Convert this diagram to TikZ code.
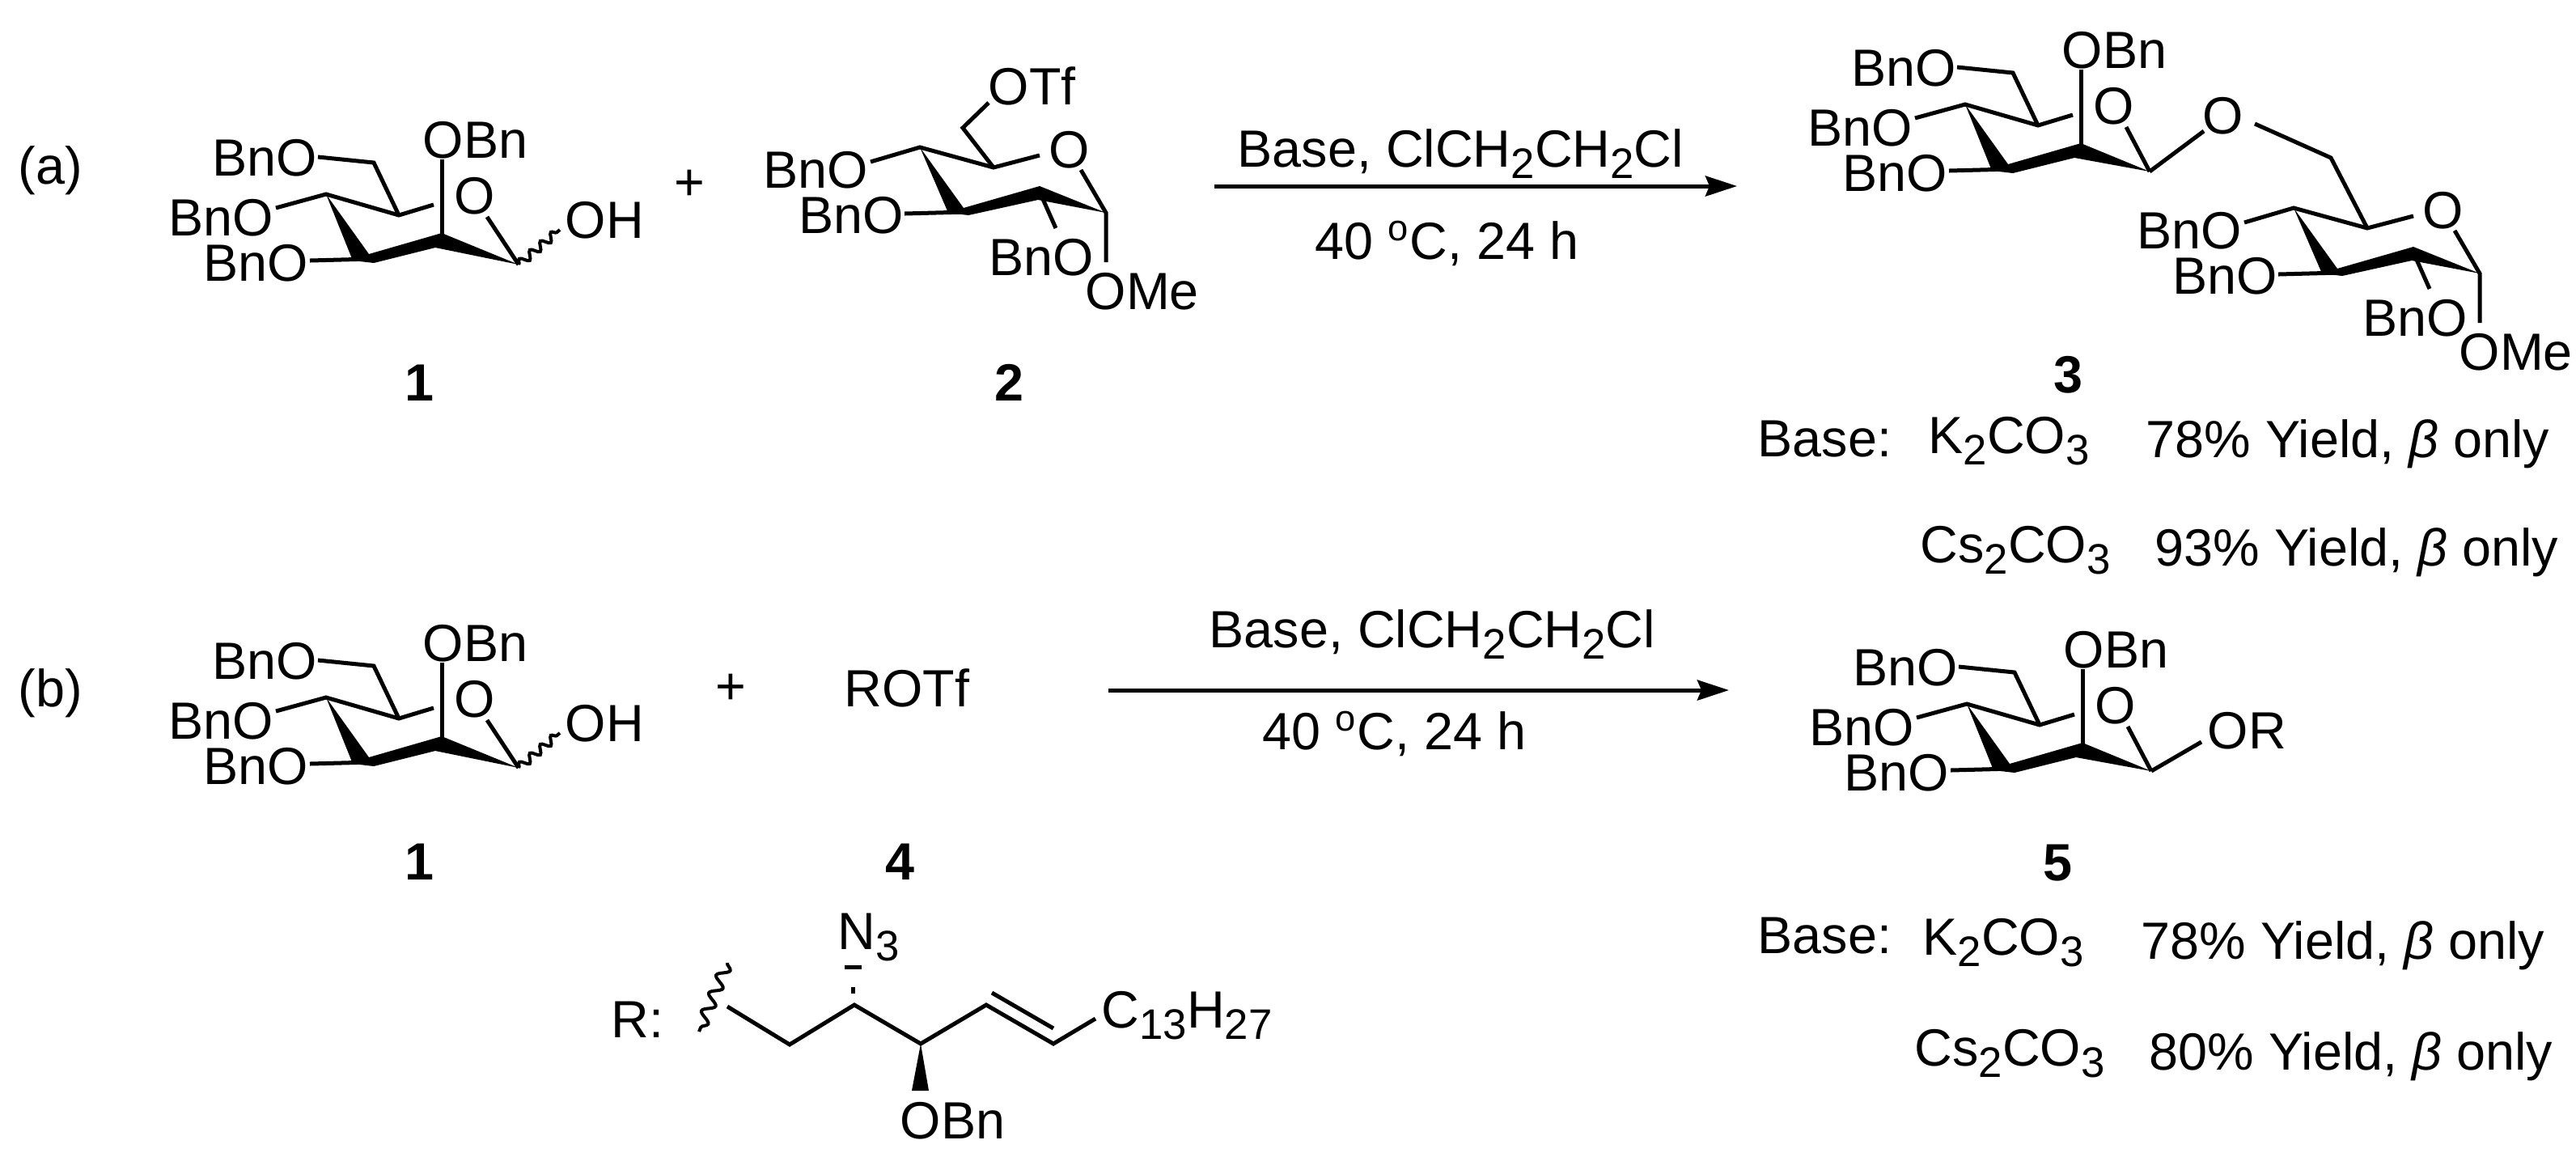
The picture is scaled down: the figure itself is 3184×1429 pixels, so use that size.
\documentclass[tikz,border=0pt]{standalone}
\usepackage{fontspec}
\setmainfont{Liberation Sans}
\usetikzlibrary{arrows.meta,decorations.pathmorphing}
\newcommand{\chsub}[1]{\raisebox{-4.2pt}{\fontsize{15}{15}\selectfont #1}}
\tikzset{
	txt/.style={anchor=base west,inner sep=0,xshift=-0.03cm,font=\fontsize{18.4}{20}\selectfont},
	num/.style={inner sep=0,font=\fontsize{18.4}{20}\selectfont\bfseries},
	bond/.style={line width=0.05cm},
	rxn/.style={line width=0.05cm,-{Stealth[length=0.39cm,width=0.25cm,inset=0.05cm]}},
	wavy/.style={line width=0.04cm,decorate,decoration={snake,amplitude=#1,segment length=3.4*#1}},
	pics/manno/.style={code={
		\coordinate (-c5) at (0,0);
		\coordinate (-c6) at (-31,-65);
		\coordinate (-c4) at (-90,-26);
		\coordinate (-c3) at (-34,54);
		\coordinate (-c2) at (53,25);
		\coordinate (-c1) at #1;
		\coordinate (-e6) at (-100,-72);
		\coordinate (-e4) at (-152,-9);
		\coordinate (-e3) at (-110,56);
		\coordinate (-e2) at (53,-69);
		\coordinate (-eo) at (43,-13);
		\coordinate (-so) at (109,2);
		\node[txt] (-bn6) at (-228,-49) {BnO};
		\node[txt] (-bn4) at (-282,25) {BnO};
		\node[txt] (-bn3) at (-239,81) {BnO};
		\node[txt] (-bn2) at (32,-71) {OBn};
		\node[txt] (-o) at (71,-2) {O};
		\draw[bond] (-e6) -- (-c6) -- (-c5);
		\draw[bond] (-e4) -- (-c4) -- (-c5) -- (-eo);
		\draw[bond] (-e3) -- (-c3);
		\draw[bond] (-e2) -- (-c2);
		\draw[bond] (-so) -- (-c1);
		\fill (-c4) -- (-37,48) -- (53,22) -- (-c1) -- (45,40) -- (-31,59) -- (-57,56) -- cycle;
	}},
	pics/gluco/.style={code={
		\coordinate (-c5) at (0,0);
		\coordinate (-c4) at (-91,-25);
		\coordinate (-c3) at (-34,55);
		\coordinate (-c2) at (57,30);
		\coordinate (-c1) at (139,56);
		\coordinate (-e4) at (-152,-7);
		\coordinate (-e3) at (-110,57);
		\coordinate (-e2) at (77,75);
		\coordinate (-e1) at (139,117);
		\coordinate (-eo) at (57,-15);
		\coordinate (-so) at (108,3);
		\node[txt] (-bn4) at (-282,25) {BnO};
		\node[txt] (-bn3) at (-238,81) {BnO};
		\node[txt] (-bn2) at (-3,133) {BnO};
		\node[txt] (-ome) at (116,175) {OMe};
		\node[txt] (-o) at (71,0) {O};
		\draw[bond] (-e4) -- (-c4) -- (-c5) -- (-eo);
		\draw[bond] (-e3) -- (-c3);
		\draw[bond] (-e2) -- (-c2);
		\draw[bond] (-so) -- (-c1) -- (-e1);
		\fill (-c4) -- (-37,50) -- (57,23) -- (-c1) -- (55,40) -- (-31,59) -- (-56,56) -- cycle;
	}}
}
\begin{document}
\begin{tikzpicture}[x=0.01cm,y=-0.01cm]
	\useasboundingbox (0,0) rectangle (3184,1429);
	\node[txt] (la) at (25,227) {(a)};
	\node[txt] (lb) at (25,873) {(b)};

	\path pic (s1) at (493,266) {manno={(148,61)}};
	\node[txt] (oh1) at (701,294) {OH};
	\coordinate (w1) at (692,284);
	\draw[wavy=0.05cm] (s1-c1) -- (w1);
	\node[num] (n1) at (518,473) {1};
	\node[txt] (plus1) at (836,247) {+};

	\path pic (s2) at (1228,207) {gluco};
	\node[txt] (otf) at (1224,129) {OTf};
	\coordinate (c62) at (1190,158);
	\coordinate (e62) at (1222,127);
	\draw[bond] (s2-c5) -- (c62) -- (e62);
	\node[num] (n2) at (1247,473) {2};

	\coordinate (a1) at (1501,230);
	\coordinate (a2) at (2147,230);
	\draw[rxn] (a1) -- (a2);
	\node[txt] (r1) at (1532,206) {Base, ClCH\chsub{2}CH\chsub{2}Cl};
	\node[txt] (t1) at (1628,320) {40 \textsuperscript{o}C, 24 h};

	\path pic (s3) at (2519,155) {manno={(138,57)}};
	\path pic (s4) at (2926,282) {gluco};
	\node[txt] (o3) at (2725,165) {O};
	\coordinate (e31) at (2724,162);
	\coordinate (e32) at (2787,153);
	\coordinate (c63) at (2881,195);
	\draw[bond] (s3-c1) -- (e31);
	\draw[bond] (e32) -- (c63) -- (s4-c5);
	\node[num] (n3) at (2556,463) {3};

	\node[txt] (b1) at (2175,564) {Base:};
	\node[txt] (k1) at (2386,560) {K\chsub{2}CO\chsub{3}};
	\node[txt] (y1) at (2655,565) {78\% Yield, \textit{β} only};
	\node[txt] (cs1) at (2376,695) {Cs\chsub{2}CO\chsub{3}};
	\node[txt] (y2) at (2666,699) {93\% Yield, \textit{β} only};

	\path pic (s5) at (493,888) {manno={(148,61)}};
	\node[txt] (oh2) at (701,916) {OH};
	\coordinate (w2) at (692,906);
	\draw[wavy=0.05cm] (s5-c1) -- (w2);
	\node[num] (n4) at (518,1065) {1};
	\node[txt] (plus2) at (887,870) {+};
	\node[txt] (rotf) at (1046,873) {ROTf};
	\node[num] (n5) at (1112,1065) {4};

	\coordinate (a3) at (1370,853);
	\coordinate (a4) at (2137,853);
	\draw[rxn] (a3) -- (a4);
	\node[txt] (r2) at (1497,800) {Base, ClCH\chsub{2}CH\chsub{2}Cl};
	\node[txt] (t2) at (1563,926) {40 \textsuperscript{o}C, 24 h};

	\path pic (s6) at (2521,896) {manno={(138,57)}};
	\node[txt] (or) at (2731,925) {OR};
	\coordinate (e61) at (2721,917);
	\draw[bond] (s6-c1) -- (e61);
	\node[num] (n6) at (2543,1067) {5};

	\node[txt] (b2) at (2175,1178) {Base:};
	\node[txt] (k2) at (2379,1180) {K\chsub{2}CO\chsub{3}};
	\node[txt] (y3) at (2649,1185) {78\% Yield, \textit{β} only};
	\node[txt] (cs2) at (2369,1317) {Cs\chsub{2}CO\chsub{3}};
	\node[txt] (y4) at (2659,1322) {80\% Yield, \textit{β} only};

	\node[txt] (rl) at (758,1282) {R:};
	\coordinate (w3) at (899,1190);
	\coordinate (w4) at (864,1275);
	\draw[wavy=0.07cm] (w3) -- (w4);
	\coordinate (p0) at (899,1244);
	\coordinate (p1) at (976,1291);
	\coordinate (p2) at (1056,1242);
	\coordinate (p3) at (1138,1290);
	\coordinate (p4) at (1219,1242);
	\coordinate (p5) at (1302,1290);
	\coordinate (p6) at (1354,1259);
	\coordinate (p7) at (1226,1227);
	\coordinate (p8) at (1302,1271);
	\draw[bond] (p0) -- (p1) -- (p2) -- (p3) -- (p4) -- (p5) -- (p6);
	\draw[bond] (p7) -- (p8);
	\fill (p3) -- (1148,1348) -- (1127,1348) -- cycle;
	\fill (1044,1193) rectangle (1065,1198);
	\fill (1052,1220) rectangle (1057,1228);
	\node[txt] (n3l) at (1038,1173) {N\chsub{3}};
	\node[txt] (bn) at (1115,1407) {OBn};
	\node[txt] (tail) at (1364,1270) {C\chsub{13}H\chsub{27}};
\end{tikzpicture}
\end{document}
